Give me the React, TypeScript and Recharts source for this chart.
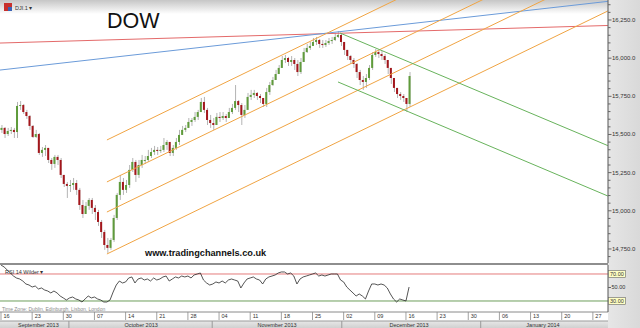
import React from 'react';
import { ComposedChart, Bar, Line, XAxis, YAxis, ReferenceLine } from 'recharts';

// ---- price bars (two bars per trading day, t = weekday index from Mon 16 Sep 2013) ----
const firstOpen = 15530;
const closes = [
  15543, 15503, 15523, 15530, 15516, 15687, 15693, 15647, 15621, 15556,
  15484, 15503, 15379, 15399, 15412, 15333, 15307, 15353, 15333, 15235,
  15176, 15163, 15169, 15182, 15137, 15038, 14979, 15032, 15071, 15019,
  14992, 14927, 14861, 14776, 14757, 14809, 14953, 15104, 15189, 15137,
  15169, 15268, 15320, 15235, 15300, 15333, 15333, 15359, 15385, 15399,
  15392, 15399, 15431, 15451, 15379, 15412, 15451, 15497, 15530, 15543,
  15582, 15595, 15615, 15647, 15713, 15661, 15595, 15575, 15562, 15615,
  15608, 15621, 15608, 15647, 15674, 15719, 15693, 15628, 15661, 15746,
  15759, 15772, 15752, 15739, 15700, 15778, 15824, 15857, 15896, 15936,
  15988, 16001, 15975, 15988, 15962, 15909, 15975, 16040, 16067, 16080,
  16106, 16119, 16093, 16086, 16099, 16112, 16119, 16139, 16152, 16106,
  16054, 16014, 15988, 15962, 15909, 15857, 15844, 15870, 15936, 16021,
  16040, 16027, 16014, 15988, 15936, 15870, 15805, 15765, 15752, 15739,
  15700, 15883,
];
const highs = [
  15562, 15549, 15543, 15549, 15543, 15713, 15719, 15700, 15661, 15628,
  15562, 15530, 15510, 15418, 15431, 15399, 15346, 15366, 15366, 15346,
  15202, 15189, 15202, 15215, 15202, 15150, 15071, 15058, 15084, 15084,
  15038, 15006, 14940, 14875, 14822, 14822, 14973, 15117, 15235, 15215,
  15202, 15300, 15346, 15333, 15333, 15366, 15359, 15399, 15412, 15425,
  15418, 15425, 15477, 15464, 15451, 15431, 15477, 15530, 15556, 15562,
  15608, 15608, 15647, 15661, 15739, 15746, 15674, 15628, 15608, 15641,
  15647, 15647, 15634, 15674, 15700, 15824, 15726, 15706, 15693, 15772,
  15792, 15792, 15778, 15765, 15739, 15805, 15844, 15877, 15923, 15955,
  16014, 16021, 16008, 16014, 16001, 15988, 16001, 16067, 16093, 16106,
  16132, 16139, 16126, 16119, 16119, 16132, 16139, 16165, 16178, 16158,
  16106, 16054, 16021, 16001, 15968, 15923, 15883, 15896, 15955, 16040,
  16060, 16054, 16047, 16027, 15988, 15936, 15857, 15805, 15778, 15765,
  15739, 15909,
];
const lows = [
  15510, 15477, 15490, 15503, 15477, 15477, 15661, 15634, 15602, 15530,
  15477, 15477, 15366, 15353, 15359, 15313, 15268, 15281, 15300, 15215,
  15156, 15084, 15123, 15137, 15104, 15006, 14953, 14992, 15006, 14979,
  14940, 14901, 14822, 14744, 14724, 14744, 14796, 14940, 15071, 15104,
  15117, 15150, 15254, 15189, 15215, 15281, 15307, 15320, 15346, 15366,
  15366, 15379, 15385, 15399, 15359, 15359, 15399, 15431, 15497, 15516,
  15543, 15556, 15582, 15595, 15647, 15641, 15562, 15543, 15530, 15562,
  15582, 15595, 15582, 15608, 15634, 15661, 15647, 15562, 15608, 15661,
  15726, 15739, 15726, 15706, 15680, 15680, 15759, 15818, 15857, 15896,
  15949, 15968, 15949, 15949, 15923, 15883, 15896, 15988, 16034, 16054,
  16080, 16086, 16067, 16067, 16073, 16086, 16093, 16112, 16132, 16080,
  16021, 15988, 15962, 15936, 15870, 15824, 15792, 15805, 15857, 15923,
  16008, 16001, 15988, 15962, 15896, 15831, 15778, 15739, 15726, 15713,
  15647, 15681,
];
const rsiValues = [
  83.3, 80.4, 75.9, 71.5, 67, 64, 62.6, 59.6, 55.2, 53.7,
  50.7, 52.2, 47.8, 49.3, 46.3, 44.8, 41.9, 44.8, 41.9, 37.4,
  34.5, 31.5, 34.5, 35.9, 33, 31.5, 28.5, 33, 37.4, 34.5,
  35.9, 33, 31.5, 28.5, 28.5, 31.5, 43.3, 53.7, 59.6, 56.7,
  58.2, 64.1, 65.6, 56.7, 62.6, 64.1, 61.1, 62.6, 59.6, 64.1,
  61.1, 62.6, 65.6, 67, 59.6, 62.6, 65.6, 64.1, 67, 65.6,
  67, 64.1, 68.5, 70, 71.5, 61.1, 56.7, 53.7, 55.2, 58.2,
  56.7, 59.6, 56.7, 61.1, 62.6, 61.1, 59.6, 49.3, 56.7, 62.6,
  64.1, 65.6, 62.6, 61.1, 55.2, 62.6, 65.6, 67, 68.5, 71.5,
  73, 73, 70, 71.5, 67, 55.2, 62.6, 65.6, 67, 68.5,
  70, 71.5, 67, 68.5, 67, 68.5, 70, 70, 70, 61.1,
  58.2, 50.7, 46.3, 41.9, 37.4, 40.4, 37.4, 33, 44.8, 55.2,
  55.2, 53.7, 55.2, 53.7, 49.3, 40.4, 33, 28.5, 33, 31.5,
  30, 50.7,
];
const barsPerDay = 2;

// ---- trend lines [t1, price1, t2, price2] ----
const orangeChannel = [
  [17, 15464, 97.4, 17056],
  [17, 15189, 97.4, 16781],
  [17, 14992, 97.4, 16584],
  [17, 14717, 97.4, 16309],
];
const greenChannel = [
  [54.41, 16165, 97.4, 15427],
  [54.09, 15844, 97.4, 15097],
];
const redLine = [-0.16, 16099, 97.4, 16214];
const blueLine = [-0.16, 15922, 97.4, 16372];

// ---- axes ----
const dayTicks = [0, 5, 10, 15, 20, 25, 30, 35, 40, 45, 50, 55, 60, 65, 70, 75, 80, 85, 90, 95];
const dayLabels = ['16', '23', '30', '07', '14', '21', '28', '04', '11', '18', '25', '02', '09', '16', '23', '30', '06', '13', '20', '27'];
const monthBounds = [10.9, 33.9, 54.7, 77];
const monthCenters = [6.0, 22.5, 44.3, 65.5, 87];
const monthLabels = ['September 2013', 'October 2013', 'November 2013', 'December 2013', 'January 2014'];
const priceMajor = 250;
const priceTicks = Array.from({ length: 34 }, (_, i) => 14700 + 50 * i);
const rsiTicks = [30, 50, 70];

const T_DOMAIN: [number, number] = [-0.16, 97.43];
const P_DOMAIN: [number, number] = [14658, 16381];
const RSI_DOMAIN: [number, number] = [13.7, 83.33];

const FONT = 'Liberation Sans, Arial, sans-serif';

const bars = closes.map((c, k) => {
  const open = k === 0 ? firstOpen : closes[k - 1];
  const high = Math.max(highs[k], open, c);
  const low = Math.min(lows[k], open, c);
  return { t: k / barsPerDay, open, close: c, high, low, range: [low, high] };
});
const rsiData = rsiValues.map((v, k) => ({ t: k / barsPerDay, rsi: v }));

const Candle = (props: any) => {
  const { x, y, width, height, payload } = props;
  if (!payload || height == null || isNaN(y)) return null;
  const { open, close, high, low } = payload;
  const span = high - low || 1;
  const r = height / span;
  const yO = y + (high - open) * r;
  const yC = y + (high - close) * r;
  const cx = x + width / 2;
  const up = close >= open;
  const top = Math.min(yO, yC);
  const h = Math.max(1, Math.abs(yC - yO));
  return (
    <g>
      <line x1={cx + 0.5} x2={cx + 0.5} y1={y} y2={y + height} stroke="#b4b4b4" strokeWidth={1} />
      <rect x={x} y={top} width={width} height={h} fill={up ? '#5f9b3b' : '#a3161b'} />
    </g>
  );
};

const fmtPrice = (v: number) =>
  v.toLocaleString('en-US', { minimumFractionDigits: 1, maximumFractionDigits: 1 });

const PriceTick = (props: any) => {
  const { x, y, payload } = props;
  const v = payload.value;
  const major = v % priceMajor === 0;
  return (
    <g>
      <line x1={x} x2={x + (major ? 3.5 : 2.5)} y1={y} y2={y} stroke="#666" strokeWidth={1} />
      {major && (
        <text x={x + 4} y={y + 2} fontSize={6} fill="#333" fontFamily={FONT}>
          {fmtPrice(v)}
        </text>
      )}
    </g>
  );
};

const RsiTick = (props: any) => {
  const { x, y, payload } = props;
  const v = payload.value;
  const boxed = v !== 50;
  return (
    <g>
      <line x1={x} x2={x + 3} y1={y} y2={y} stroke="#666" strokeWidth={1} />
      {boxed && <rect x={x + 0.5} y={y - 3.5} width={17} height={7} fill="#ffffc4" stroke="#666" strokeWidth={0.6} />}
      <text x={x + (boxed ? 2 : 3.5)} y={y + 2} fontSize={5.5} fill="#333" fontFamily={FONT}>
        {v.toFixed(2)}
      </text>
    </g>
  );
};

const DayTick = (props: any) => {
  const { x, y, payload } = props;
  const i = dayTicks.indexOf(payload.value);
  return (
    <g>
      <line x1={x} x2={x} y1={y} y2={y + 8} stroke="#8a8a8a" strokeWidth={0.8} />
      <text x={x + 2.5} y={y + 6.3} fontSize={5.5} fill="#333" fontFamily={FONT}>
        {dayLabels[i]}
      </text>
    </g>
  );
};

const MonthTick = (props: any) => {
  const { x, y, payload } = props;
  const b = monthBounds.indexOf(payload.value);
  if (b >= 0) {
    return <line x1={x} x2={x} y1={y} y2={y + 7} stroke="#9a9a9a" strokeWidth={1} />;
  }
  const i = monthCenters.indexOf(payload.value);
  return (
    <text x={x} y={y + 5.5} fontSize={5.5} fill="#333" textAnchor="middle" fontFamily={FONT}>
      {monthLabels[i]}
    </text>
  );
};

const seg = (l: number[]) => [
  { x: l[0], y: l[1] },
  { x: l[2], y: l[3] },
] as any;

export default function App() {
  return (
    <div style={{ position: 'absolute', left: 0, top: 0, width: 640, height: 328, background: '#fff', overflow: 'hidden' }}>
      {/* top band */}
      <div style={{ position: 'absolute', left: 0, top: 0, width: 640, height: 14, background: 'linear-gradient(#c6c6c6, #ffffff)' }} />
      {/* right axis column */}
      <div style={{ position: 'absolute', left: 608, top: 0, width: 32, height: 328, background: 'linear-gradient(90deg, #e6e6e6, #d9d9d9)' }} />
      {/* month row background */}
      <div style={{ position: 'absolute', left: 0, top: 321, width: 608, height: 7, background: 'linear-gradient(#e8e8e8, #d0d0d0)' }} />

      <div style={{ position: 'absolute', left: 0, top: 0 }}>
        <ComposedChart width={640} height={263} data={bars} margin={{ top: 0, right: 0, left: 0, bottom: 0 }}>
          <XAxis type="number" dataKey="t" domain={T_DOMAIN} allowDataOverflow hide />
          <YAxis
            orientation="right"
            width={32}
            domain={P_DOMAIN}
            allowDataOverflow
            ticks={priceTicks}
            interval={0}
            tickSize={0}
            tickMargin={0}
            tickLine={false}
            axisLine={{ stroke: '#555' }}
            tick={<PriceTick />}
          />
          <Bar dataKey="range" barSize={2} shape={(p: any) => <Candle {...p} />} isAnimationActive={false} />
          <ReferenceLine segment={seg(redLine)} stroke="#e46a6a" strokeWidth={1} ifOverflow="hidden" />
          <ReferenceLine segment={seg(blueLine)} stroke="#6b9bd9" strokeWidth={1} ifOverflow="hidden" />
          {orangeChannel.map((l, i) => (
            <ReferenceLine key={'o' + i} segment={seg(l)} stroke="#f0a443" strokeWidth={1} ifOverflow="hidden" />
          ))}
          {greenChannel.map((l, i) => (
            <ReferenceLine key={'g' + i} segment={seg(l)} stroke="#68b35c" strokeWidth={1} ifOverflow="hidden" />
          ))}
        </ComposedChart>
      </div>

      {/* panel separator */}
      <div style={{ position: 'absolute', left: 0, top: 263, width: 608, height: 2, background: '#8e8e8e' }} />

      <div style={{ position: 'absolute', left: 0, top: 265 }}>
        <ComposedChart width={640} height={63} data={rsiData} margin={{ top: 0, right: 0, left: 0, bottom: 0 }}>
          <XAxis
            xAxisId="day"
            type="number"
            dataKey="t"
            domain={T_DOMAIN}
            allowDataOverflow
            ticks={dayTicks}
            interval={0}
            height={9}
            tickSize={0}
            tickMargin={0}
            tickLine={false}
            axisLine={{ stroke: '#8a8a8a' }}
            tick={<DayTick />}
          />
          <XAxis
            xAxisId="month"
            type="number"
            dataKey="t"
            domain={T_DOMAIN}
            allowDataOverflow
            ticks={[...monthBounds, ...monthCenters].sort((a, b) => a - b)}
            interval={0}
            height={7}
            tickSize={0}
            tickMargin={0}
            tickLine={false}
            axisLine={{ stroke: '#9a9a9a' }}
            tick={<MonthTick />}
          />
          <YAxis
            orientation="right"
            width={32}
            domain={RSI_DOMAIN}
            allowDataOverflow
            ticks={rsiTicks}
            interval={0}
            tickSize={0}
            tickMargin={0}
            tickLine={false}
            axisLine={{ stroke: '#555' }}
            tick={<RsiTick />}
          />
          <ReferenceLine xAxisId="day" y={70} stroke="#e47c7c" strokeWidth={1} />
          <ReferenceLine xAxisId="day" y={30} stroke="#6e9f5c" strokeWidth={1} />
          <Line xAxisId="day" type="linear" dataKey="rsi" stroke="#2a2a2a" strokeWidth={0.8} dot={false} isAnimationActive={false} />
        </ComposedChart>
      </div>

      {/* text overlay */}
      <svg width={640} height={328} style={{ position: 'absolute', left: 0, top: 0, pointerEvents: 'none' }}>
        <rect x={4} y={3} width={8} height={8} fill="#c8302c" />
        <rect x={8} y={7} width={4} height={4} fill="#3b63b5" />
        <text x={15} y={9.5} fontSize={5.5} fill="#333" fontFamily={FONT}>DJI.1 ▾</text>
        <text x={107} y={28.3} fontSize={21.5} fill="#111" fontFamily={FONT}>DOW</text>
        <text x={145} y={255.5} fontSize={9.2} fontWeight="bold" fill="#111" fontFamily={FONT}>www.tradingchannels.co.uk</text>
        <text x={5} y={274.3} fontSize={5.5} fill="#333" fontFamily={FONT}>RSI 14 Wilder ▾</text>
        <text x={2} y={311} fontSize={5} fill="#8a8a8a" fontFamily={FONT}>Time Zone: Dublin, Edinburgh, Lisbon, London</text>
      </svg>
    </div>
  );
}
